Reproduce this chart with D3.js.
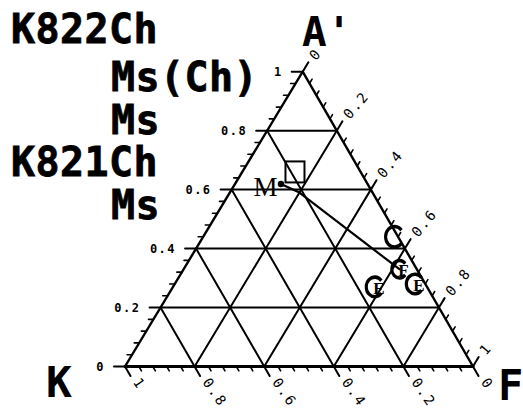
<!DOCTYPE html>
<html>
<head>
<meta charset="utf-8">
<script src="https://cdn.jsdelivr.net/npm/d3@7"></script>
<style>
  html, body { margin: 0; padding: 0; background: #fff; }
  svg { display: block; }
</style>
</head>
<body>
<svg id="chart" width="523" height="415"></svg>
<script>
// Ternary K – A' – F diagram with mineral labels.

// Axis tick values and labels
const tickValues = [0, 0.2, 0.4, 0.6, 0.8, 1];
const leftTickLabels = ["0", "0.2", "0.4", "0.6", "0.8", "1"];   // A'
const rightTickLabels = ["0", "0.2", "0.4", "0.6", "0.8", "1"];  // F
const bottomTickLabels = ["0", "0.2", "0.4", "0.6", "0.8", "1"]; // K

// Sample names listed at the upper left
const sampleLines = ["K822Ch", "Ms(Ch)", "Ms", "K821Ch", "Ms"];
const sampleIndent = [0, 1, 1, 0, 1];

// Chlorite analyses (K, A', F); letters mark the individual spots
const chlOverlay = ["", "F", "E", "E"];
const chlSize = [11.5, 10, 11, 11];
const chlK = [0.01, 0.05, 0.15, 0.03];
const chlA = [0.44, 0.33, 0.27, 0.28];
const chlF = [0.55, 0.62, 0.58, 0.69];

// Muscovite analyses (K, A', F)
const msK = [0.19];
const msA = [0.66];
const msF = [0.15];

// Point M and its tie line to the chlorite
const mK = [0.21];
const mA = [0.59];
const mF = [0.20];
const tieK = [0.21, 0.05];
const tieA = [0.59, 0.33];
const tieF = [0.20, 0.62];

const svg = d3.select("#chart");

// Scales: F runs along the base, A' sets the height and the sideways shift
const xF = d3.scaleLinear().domain([0, 1]).range([125, 473]);
const yA = d3.scaleLinear().domain([0, 1]).range([366.5, 71.7]);
const shiftA = d3.scaleLinear().domain([0, 1]).range([0, 177.7]);

function proj(k, a, f) {
  const s = k + a + f;
  a /= s; f /= s;
  return [xF(f) + shiftA(a), yA(a)];
}

const Kv = proj(1, 0, 0), Av = proj(0, 1, 0), Fv = proj(0, 0, 1);
function unit(p, q) {
  const dx = q[0] - p[0], dy = q[1] - p[1], l = Math.hypot(dx, dy);
  return [dx / l, dy / l];
}
const dirLeft = [-1, 0];
const dirUpRight = unit(Kv, Av);     // parallel to left edge
const dirDownRight = unit(Av, Fv);   // parallel to right edge

const line = d3.line();
const g = svg.append("g").attr("stroke", "#000").attr("fill", "none")
  .attr("stroke-linecap", "round");

// Interior grid
[0.2, 0.4, 0.6, 0.8].forEach(v => {
  g.append("path").attr("stroke-width", 2)
    .attr("d", line([proj(1 - v, v, 0), proj(0, v, 1 - v)]));
  g.append("path").attr("stroke-width", 2)
    .attr("d", line([proj(1 - v, 0, v), proj(0, 1 - v, v)]));
  g.append("path").attr("stroke-width", 2)
    .attr("d", line([proj(v, 1 - v, 0), proj(v, 0, 1 - v)]));
});

// Triangle outline
g.append("path").attr("stroke-width", 2.4).attr("stroke-linejoin", "round")
  .attr("d", line([Kv, Av, Fv]));
g.append("path").attr("stroke-width", 3)
  .attr("d", line([Kv, Fv]));

function tick(p, dir, len, w) {
  g.append("path").attr("stroke-width", w)
    .attr("d", line([p, [p[0] + dir[0] * len, p[1] + dir[1] * len]]));
}

// Major and minor ticks on the three sides
const minorStep = 0.04;
d3.range(0, 1.0001, minorStep).forEach(v => {
  const major = Math.abs(v * 5 - Math.round(v * 5)) < 1e-6;
  const len = major ? 11 : 5;
  const w = major ? 2 : 1.6;
  tick(proj(1 - v, v, 0), dirLeft, len, w);          // A' on left side
  tick(proj(0, 1 - v, v), dirUpRight, len, w);       // F on right side
  tick(proj(v, 0, 1 - v), dirDownRight, len, w);     // K along base
});

const labelFont = "'DejaVu Sans Mono', monospace";

// Left axis labels (A')
svg.append("g").selectAll("text").data(tickValues).join("text")
  .attr("x", (v) => proj(1 - v, v, 0)[0] - 20)
  .attr("y", (v) => proj(1 - v, v, 0)[1] + 4.5)
  .attr("text-anchor", "end")
  .attr("font-family", labelFont).attr("font-weight", "bold")
  .attr("font-size", 12).attr("letter-spacing", 1.5)
  .text((v, i) => leftTickLabels[i]);

// Right axis labels (F)
svg.append("g").selectAll("text").data(tickValues).join("text")
  .attr("transform", (v) => {
    const p = proj(0, 1 - v, v);
    const x = p[0] + dirUpRight[0] * 16 + 1, y = p[1] + dirUpRight[1] * 16;
    return `translate(${x},${y}) rotate(-50)`;
  })
  .attr("dy", "0.35em")
  .attr("font-family", labelFont).attr("font-size", 14).attr("letter-spacing", 2)
  .text((v, i) => rightTickLabels[i]);

// Base labels (K)
svg.append("g").selectAll("text").data(tickValues).join("text")
  .attr("transform", (v) => {
    const p = proj(v, 0, 1 - v);
    const x = p[0] + dirDownRight[0] * 15 + 4, y = p[1] + dirDownRight[1] * 15;
    return `translate(${x},${y}) rotate(55)`;
  })
  .attr("dy", "0.35em")
  .attr("font-family", labelFont).attr("font-size", 14).attr("letter-spacing", 2)
  .text((v, i) => bottomTickLabels[i]);

// Vertex names
const bigFont = "'DejaVu Sans Mono', monospace";
svg.append("text").attr("x", 302).attr("y", 46)
  .attr("font-family", bigFont).attr("font-weight", "bold").attr("font-size", 41)
  .text("A'");
svg.append("text").attr("x", 46).attr("y", 397)
  .attr("font-family", bigFont).attr("font-weight", "bold").attr("font-size", 43)
  .text("K");
svg.append("text").attr("x", 498).attr("y", 400)
  .attr("font-family", bigFont).attr("font-weight", "bold").attr("font-size", 42)
  .text("F");

// Sample list
const rowBase = [43, 91, 134, 176, 219];
svg.append("g").selectAll("text").data(sampleLines).join("text")
  .attr("x", (d, i) => sampleIndent[i] ? 111 : 11)
  .attr("y", (d, i) => rowBase[i])
  .attr("font-family", bigFont).attr("font-weight", "bold").attr("font-size", 40)
  .attr("letter-spacing", 0.4)
  .attr("stroke", "#000").attr("stroke-width", 0.8)
  .text(d => d);

// Tie line from M to chlorite
g.append("path").attr("stroke-width", 2.2)
  .attr("d", line(tieK.map((k, i) => proj(k, tieA[i], tieF[i]))));

// Muscovite square
const ms = msK.map((k, i) => proj(k, msA[i], msF[i]));
svg.append("g").selectAll("rect").data(ms).join("rect")
  .attr("x", d => d[0] - 9).attr("y", d => d[1] - 10.5)
  .attr("width", 19).attr("height", 21)
  .attr("fill", "none").attr("stroke", "#000").attr("stroke-width", 2);

// Point M with its label
const mp = proj(mK[0], mA[0], mF[0]);
const dot = [mp[0] - 18.5, mp[1] - 8.5];
g.append("path").attr("stroke-width", 2.2).attr("d", line([dot, mp]));
svg.append("circle").attr("cx", dot[0]).attr("cy", dot[1]).attr("r", 3.2).attr("fill", "#000");
svg.append("text").attr("x", dot[0] - 3.5).attr("y", dot[1] + 12)
  .attr("text-anchor", "end")
  .attr("font-family", "'Liberation Serif', serif").attr("font-size", 27)
  .text("M");

// Chlorite symbols: open "C" rings, opening to the right
const chl = chlK.map((k, i) => ({ p: proj(k, chlA[i], chlF[i]), o: chlOverlay[i], r: chlSize[i] }));
const ring = d => d3.arc()
  .innerRadius(d.r - 3.4).outerRadius(d.r)
  .startAngle(Math.PI / 2 + 0.7).endAngle(Math.PI / 2 + 2 * Math.PI - 0.7)();
svg.append("g").selectAll("path").data(chl).join("path")
  .attr("transform", d => `translate(${d.p[0]},${d.p[1]}) scale(0.92,1.05)`)
  .attr("d", ring)
  .attr("fill", "#000");
svg.append("g").selectAll("text").data(chl.filter(d => d.o)).join("text")
  .attr("x", d => d.p[0] + 4).attr("y", d => d.p[1] + 1)
  .attr("text-anchor", "middle").attr("dy", "0.34em")
  .attr("font-family", "'Liberation Serif', serif").attr("font-weight", "bold")
  .attr("font-size", 17)
  .text(d => d.o);
</script>
</body>
</html>
